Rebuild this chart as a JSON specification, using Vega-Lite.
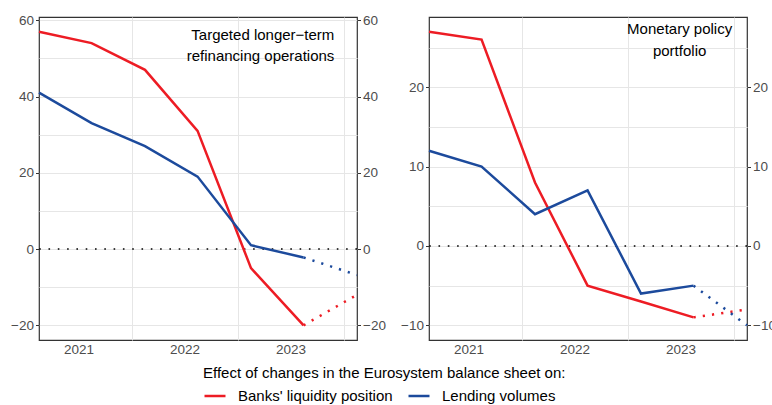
{
  "$schema": "https://vega.github.io/schema/vega-lite/v6.json",
  "padding": {"left": 10, "top": 12, "right": 0, "bottom": 0},
  "background": "white",
  "data": {
    "values": [
      {"panel": "TLTRO", "series": "Banks' liquidity position", "kind": "actual", "date": "2021-02-15", "value": 57},
      {"panel": "TLTRO", "series": "Banks' liquidity position", "kind": "actual", "date": "2021-08-15", "value": 54},
      {"panel": "TLTRO", "series": "Banks' liquidity position", "kind": "actual", "date": "2022-02-15", "value": 47},
      {"panel": "TLTRO", "series": "Banks' liquidity position", "kind": "actual", "date": "2022-08-15", "value": 31},
      {"panel": "TLTRO", "series": "Banks' liquidity position", "kind": "actual", "date": "2023-02-15", "value": -5},
      {"panel": "TLTRO", "series": "Banks' liquidity position", "kind": "actual", "date": "2023-08-15", "value": -20},
      {"panel": "TLTRO", "series": "Banks' liquidity position", "kind": "projection", "date": "2023-08-15", "value": -20},
      {"panel": "TLTRO", "series": "Banks' liquidity position", "kind": "projection", "date": "2024-02-15", "value": -12},
      {"panel": "TLTRO", "series": "Lending volumes", "kind": "actual", "date": "2021-02-15", "value": 41},
      {"panel": "TLTRO", "series": "Lending volumes", "kind": "actual", "date": "2021-08-15", "value": 33},
      {"panel": "TLTRO", "series": "Lending volumes", "kind": "actual", "date": "2022-02-15", "value": 27},
      {"panel": "TLTRO", "series": "Lending volumes", "kind": "actual", "date": "2022-08-15", "value": 19},
      {"panel": "TLTRO", "series": "Lending volumes", "kind": "actual", "date": "2023-02-15", "value": 1},
      {"panel": "TLTRO", "series": "Lending volumes", "kind": "actual", "date": "2023-08-15", "value": -2.2},
      {"panel": "TLTRO", "series": "Lending volumes", "kind": "projection", "date": "2023-08-15", "value": -2.2},
      {"panel": "TLTRO", "series": "Lending volumes", "kind": "projection", "date": "2024-02-15", "value": -6.8},
      {"panel": "MPP", "series": "Banks' liquidity position", "kind": "actual", "date": "2021-02-15", "value": 27},
      {"panel": "MPP", "series": "Banks' liquidity position", "kind": "actual", "date": "2021-08-15", "value": 26},
      {"panel": "MPP", "series": "Banks' liquidity position", "kind": "actual", "date": "2022-02-15", "value": 8},
      {"panel": "MPP", "series": "Banks' liquidity position", "kind": "actual", "date": "2022-08-15", "value": -5},
      {"panel": "MPP", "series": "Banks' liquidity position", "kind": "actual", "date": "2023-02-15", "value": -7},
      {"panel": "MPP", "series": "Banks' liquidity position", "kind": "actual", "date": "2023-08-15", "value": -9},
      {"panel": "MPP", "series": "Banks' liquidity position", "kind": "projection", "date": "2023-08-15", "value": -9},
      {"panel": "MPP", "series": "Banks' liquidity position", "kind": "projection", "date": "2024-02-15", "value": -8},
      {"panel": "MPP", "series": "Lending volumes", "kind": "actual", "date": "2021-02-15", "value": 12},
      {"panel": "MPP", "series": "Lending volumes", "kind": "actual", "date": "2021-08-15", "value": 10},
      {"panel": "MPP", "series": "Lending volumes", "kind": "actual", "date": "2022-02-15", "value": 4},
      {"panel": "MPP", "series": "Lending volumes", "kind": "actual", "date": "2022-08-15", "value": 7},
      {"panel": "MPP", "series": "Lending volumes", "kind": "actual", "date": "2023-02-15", "value": -6},
      {"panel": "MPP", "series": "Lending volumes", "kind": "actual", "date": "2023-08-15", "value": -5},
      {"panel": "MPP", "series": "Lending volumes", "kind": "projection", "date": "2023-08-15", "value": -5},
      {"panel": "MPP", "series": "Lending volumes", "kind": "projection", "date": "2024-02-15", "value": -10}
    ]
  },
  "spacing": 14,
  "hconcat": [
    {
      "width": 318,
      "height": 323,
      "layer": [
        {
          "data": {"values": [{}]},
          "mark": {"type": "rule", "color": "black", "strokeDash": [1.6, 7.7], "strokeWidth": 1.6},
          "encoding": {"y": {"datum": 0, "type": "quantitative", "axis": null}}
        },
        {
          "transform": [{"filter": "datum.panel === 'TLTRO' && datum.kind === 'actual'"}],
          "mark": {"type": "line", "strokeWidth": 2.5},
          "encoding": {
            "x": {"field": "date", "type": "temporal", "title": null,
              "scale": {"type": "utc", "domain": [{"year": 2021, "month": 2, "date": 15, "utc": true}, {"year": 2024, "month": 2, "date": 15, "utc": true}]},
              "axis": {"orient": "bottom", "values": [{"year": 2021, "month": 7, "date": 1, "utc": true}, {"year": 2022, "month": 1, "date": 1, "utc": true}, {"year": 2022, "month": 7, "date": 1, "utc": true}, {"year": 2023, "month": 1, "date": 1, "utc": true}, {"year": 2023, "month": 7, "date": 1, "utc": true}, {"year": 2024, "month": 1, "date": 1, "utc": true}],
                "ticks": false, "tickSize": 0, "labelPadding": 2, "labelFlush": false, "labelOverlap": false,
                "labelExpr": "utcmonth(datum.value) === 6 ? utcFormat(datum.value, '%Y') : ''",
                "grid": true, "gridColor": {"condition": {"test": "utcmonth(datum.value) === 6", "value": "transparent"}, "value": "#e6e6e6"}}},
            "y": {"field": "value", "type": "quantitative", "title": null,
              "scale": {"domain": [-23.85, 60.85], "nice": false, "zero": false},
              "axis": {"orient": "left", "values": [-20, -10, 0, 10, 20, 30, 40, 50, 60], "grid": true,
                "labelExpr": "datum.value % 20 === 0 ? datum.label : ''",
                "tickColor": {"condition": {"test": "datum.value % 20 !== 0", "value": "transparent"}, "value": "#333333"}}},
            "color": {"field": "series", "type": "nominal",
              "legend": {"title": "Effect of changes in the Eurosystem balance sheet on:", "orient": "none", "direction": "horizontal", "legendX": 164, "legendY": 349}}
          }
        },
        {
          "transform": [{"filter": "datum.panel === 'TLTRO' && datum.kind === 'projection'"}],
          "mark": {"type": "line", "strokeWidth": 2.5, "strokeDash": [2.2, 7.1]},
          "encoding": {
            "x": {"field": "date", "type": "temporal", "title": null},
            "y": {"field": "value", "type": "quantitative", "title": null,
              "axis": {"orient": "right", "values": [-20, -10, 0, 10, 20, 30, 40, 50, 60], "grid": false,
                "labelExpr": "datum.value % 20 === 0 ? datum.label : ''",
                "tickColor": {"condition": {"test": "datum.value % 20 !== 0", "value": "transparent"}, "value": "#333333"}}},
            "color": {"field": "series", "type": "nominal"}
          }
        },
        {
          "data": {"values": [{}]},
          "mark": {"type": "text", "text": ["Targeted longer−term", "refinancing operations"], "align": "right", "baseline": "alphabetic", "font": "Liberation Sans", "fontSize": 15, "lineHeight": 21, "color": "black"},
          "encoding": {
            "x": {"datum": {"year": 2023, "month": 11, "date": 29, "utc": true}, "type": "temporal", "title": null},
            "y": {"datum": 54.8, "type": "quantitative", "axis": null}
          }
        }
      ],
      "resolve": {"axis": {"y": "independent"}}
    },
    {
      "width": 318,
      "height": 323,
      "layer": [
        {
          "data": {"values": [{}]},
          "mark": {"type": "rule", "color": "black", "strokeDash": [1.6, 7.7], "strokeWidth": 1.6},
          "encoding": {"y": {"datum": 0, "type": "quantitative", "axis": null}}
        },
        {
          "transform": [{"filter": "datum.panel === 'MPP' && datum.kind === 'actual'"}],
          "mark": {"type": "line", "strokeWidth": 2.5},
          "encoding": {
            "x": {"field": "date", "type": "temporal", "title": null,
              "scale": {"type": "utc", "domain": [{"year": 2021, "month": 2, "date": 15, "utc": true}, {"year": 2024, "month": 2, "date": 15, "utc": true}]},
              "axis": {"orient": "bottom", "values": [{"year": 2021, "month": 7, "date": 1, "utc": true}, {"year": 2022, "month": 1, "date": 1, "utc": true}, {"year": 2022, "month": 7, "date": 1, "utc": true}, {"year": 2023, "month": 1, "date": 1, "utc": true}, {"year": 2023, "month": 7, "date": 1, "utc": true}, {"year": 2024, "month": 1, "date": 1, "utc": true}],
                "ticks": false, "tickSize": 0, "labelPadding": 2, "labelFlush": false, "labelOverlap": false,
                "labelExpr": "utcmonth(datum.value) === 6 ? utcFormat(datum.value, '%Y') : ''",
                "grid": true, "gridColor": {"condition": {"test": "utcmonth(datum.value) === 6", "value": "transparent"}, "value": "#e6e6e6"}}},
            "y": {"field": "value", "type": "quantitative", "title": null,
              "scale": {"domain": [-11.85, 28.85], "nice": false, "zero": false},
              "axis": {"orient": "left", "values": [-10, -5, 0, 5, 10, 15, 20, 25], "grid": true,
                "labelExpr": "datum.value % 10 === 0 ? datum.label : ''",
                "tickColor": {"condition": {"test": "datum.value % 10 !== 0", "value": "transparent"}, "value": "#333333"}}},
            "color": {"field": "series", "type": "nominal"}
          }
        },
        {
          "transform": [{"filter": "datum.panel === 'MPP' && datum.kind === 'projection'"}],
          "mark": {"type": "line", "strokeWidth": 2.5, "strokeDash": [2.2, 7.1]},
          "encoding": {
            "x": {"field": "date", "type": "temporal", "title": null},
            "y": {"field": "value", "type": "quantitative", "title": null,
              "axis": {"orient": "right", "values": [-10, -5, 0, 5, 10, 15, 20, 25], "grid": false,
                "labelExpr": "datum.value % 10 === 0 ? datum.label : ''",
                "tickColor": {"condition": {"test": "datum.value % 10 !== 0", "value": "transparent"}, "value": "#333333"}}},
            "color": {"field": "series", "type": "nominal"}
          }
        },
        {
          "data": {"values": [{}]},
          "mark": {"type": "text", "text": ["Monetary policy", "portfolio"], "align": "center", "baseline": "alphabetic", "font": "Liberation Sans", "fontSize": 15, "lineHeight": 22, "color": "black"},
          "encoding": {
            "x": {"datum": {"year": 2023, "month": 6, "date": 28, "utc": true}, "type": "temporal", "title": null},
            "y": {"datum": 26.7, "type": "quantitative", "axis": null}
          }
        }
      ],
      "resolve": {"axis": {"y": "independent"}}
    }
  ],
  "resolve": {"scale": {"color": "shared"}, "legend": {"color": "shared"}},
  "config": {
    "font": "Liberation Sans",
    "view": {"stroke": "#333333", "strokeWidth": 1.2},
    "axis": {"domain": false, "labelFont": "Liberation Sans", "labelFontSize": 13.5, "labelColor": "#4d4d4d", "tickColor": "#333333", "tickSize": 3.5, "tickWidth": 1, "labelPadding": 2, "gridColor": "#e6e6e6", "gridWidth": 1},
    "range": {"category": ["#ed1c24", "#1c4a9c"]},
    "legend": {
      "titleFont": "Liberation Sans", "titleFontSize": 15, "titleFontWeight": "normal", "titleColor": "black", "titlePadding": 3, "titleLimit": 600,
      "labelFont": "Liberation Sans", "labelFontSize": 15, "labelColor": "black", "labelOffset": 11, "labelLimit": 400,
      "symbolType": "stroke", "symbolStrokeWidth": 2.5, "symbolSize": 441, "columnPadding": 10}
  }
}
